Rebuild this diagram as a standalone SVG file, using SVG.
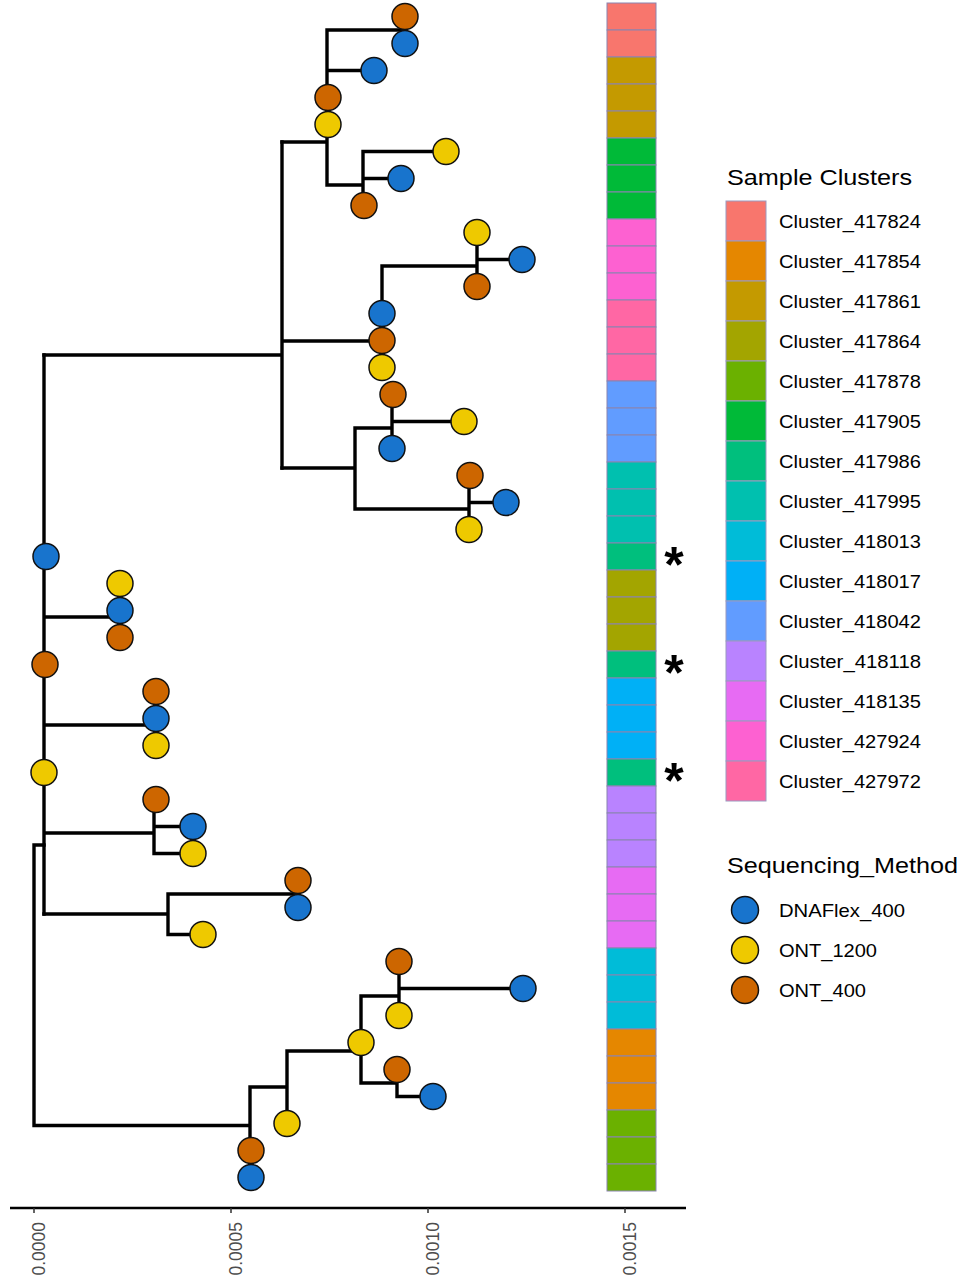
<svg xmlns="http://www.w3.org/2000/svg" width="961" height="1280" viewBox="0 0 961 1280">
<style>
.edge{fill:none;stroke:#000;stroke-width:3.4;stroke-linecap:square}
.tip{stroke:#111;stroke-width:1.5}
.b{fill:#1874CD}.y{fill:#EEC900}.o{fill:#CD6600}
.tile{stroke:#8a84b0;stroke-width:1}
.key{stroke:#9a9ac0;stroke-width:1}
.t{font-family:"Liberation Sans",Arial,sans-serif;fill:#000}
.lab{font-size:19px}
.ttl{font-size:22px}
.ax{font-family:"Liberation Sans",Arial,sans-serif;font-size:17.5px;fill:#4D4D4D}
.ast{font-family:"Liberation Sans",Arial,sans-serif;font-size:50px;font-weight:bold;fill:#000}
</style>
<rect x="0" y="0" width="961" height="1280" fill="#fff"/>
<g id="connectors">
<path class="edge" d="M405,16.5V43.5 M327,30H405 M327,30V185 M327,70.5H374 M282,142H327 M327,185H363 M363,151.5V205.5 M363,151.5H446 M363,178.5H401"/>
<path class="edge" d="M282,142V468 M44,355H282 M282,341H382 M382,266V367.5 M382,266H477 M477,232.5V286.5 M477,259.5H522"/>
<path class="edge" d="M282,468H355 M355,428V509 M355,428H392 M392,394.5V448.5 M392,421.5H464 M355,509H469 M469,475.5V529.5 M469,502.5H506"/>
<path class="edge" d="M44,355V914 M44,617H120 M120,583.5V637.5 M44,725H156 M156,691.5V745.5 M44,833H154 M154,799.5V853.5 M154,826.5H193 M154,853.5H193"/>
<path class="edge" d="M44,914H168 M168,894V934.5 M168,894H298 M298,880.5V907.5 M168,934.5H203"/>
<path class="edge" d="M34,845H44 M34,845V1125.5 M34,1125.5H250 M250,1087V1177.5 M250,1087H287 M287,1051V1123.5 M287,1051H361 M361,996V1083 M361,996H399 M399,961.5V1015.5 M399,988.5H523 M361,1083H397 M397,1069.5V1096.5 M397,1096.5H433"/>
</g>
<g id="tips">
<g id="tip-0"><circle class="tip o" cx="405" cy="16.5" r="13"/></g>
<g id="tip-1"><circle class="tip b" cx="405" cy="43.5" r="13"/></g>
<g id="tip-2"><circle class="tip b" cx="374" cy="70.5" r="13"/></g>
<g id="tip-3"><circle class="tip o" cx="328" cy="97.5" r="13"/></g>
<g id="tip-4"><circle class="tip y" cx="328" cy="124.5" r="13"/></g>
<g id="tip-5"><circle class="tip y" cx="446" cy="151.5" r="13"/></g>
<g id="tip-6"><circle class="tip b" cx="401" cy="178.5" r="13"/></g>
<g id="tip-7"><circle class="tip o" cx="364" cy="205.5" r="13"/></g>
<g id="tip-8"><circle class="tip y" cx="477" cy="232.5" r="13"/></g>
<g id="tip-9"><circle class="tip b" cx="522" cy="259.5" r="13"/></g>
<g id="tip-10"><circle class="tip o" cx="477" cy="286.5" r="13"/></g>
<g id="tip-11"><circle class="tip b" cx="382" cy="313.5" r="13"/></g>
<g id="tip-12"><circle class="tip o" cx="382" cy="340.5" r="13"/></g>
<g id="tip-13"><circle class="tip y" cx="382" cy="367.5" r="13"/></g>
<g id="tip-14"><circle class="tip o" cx="393" cy="394.5" r="13"/></g>
<g id="tip-15"><circle class="tip y" cx="464" cy="421.5" r="13"/></g>
<g id="tip-16"><circle class="tip b" cx="392" cy="448.5" r="13"/></g>
<g id="tip-17"><circle class="tip o" cx="470" cy="475.5" r="13"/></g>
<g id="tip-18"><circle class="tip b" cx="506" cy="502.5" r="13"/></g>
<g id="tip-19"><circle class="tip y" cx="469" cy="529.5" r="13"/></g>
<g id="tip-20"><circle class="tip b" cx="46" cy="556.5" r="13"/></g>
<g id="tip-21"><circle class="tip y" cx="120" cy="583.5" r="13"/></g>
<g id="tip-22"><circle class="tip b" cx="120" cy="610.5" r="13"/></g>
<g id="tip-23"><circle class="tip o" cx="120" cy="637.5" r="13"/></g>
<g id="tip-24"><circle class="tip o" cx="45" cy="664.5" r="13"/></g>
<g id="tip-25"><circle class="tip o" cx="156" cy="691.5" r="13"/></g>
<g id="tip-26"><circle class="tip b" cx="156" cy="718.5" r="13"/></g>
<g id="tip-27"><circle class="tip y" cx="156" cy="745.5" r="13"/></g>
<g id="tip-28"><circle class="tip y" cx="44" cy="772.5" r="13"/></g>
<g id="tip-29"><circle class="tip o" cx="156" cy="799.5" r="13"/></g>
<g id="tip-30"><circle class="tip b" cx="193" cy="826.5" r="13"/></g>
<g id="tip-31"><circle class="tip y" cx="193" cy="853.5" r="13"/></g>
<g id="tip-32"><circle class="tip o" cx="298" cy="880.5" r="13"/></g>
<g id="tip-33"><circle class="tip b" cx="298" cy="907.5" r="13"/></g>
<g id="tip-34"><circle class="tip y" cx="203" cy="934.5" r="13"/></g>
<g id="tip-35"><circle class="tip o" cx="399" cy="961.5" r="13"/></g>
<g id="tip-36"><circle class="tip b" cx="523" cy="988.5" r="13"/></g>
<g id="tip-37"><circle class="tip y" cx="399" cy="1015.5" r="13"/></g>
<g id="tip-38"><circle class="tip y" cx="361" cy="1042.5" r="13"/></g>
<g id="tip-39"><circle class="tip o" cx="397" cy="1069.5" r="13"/></g>
<g id="tip-40"><circle class="tip b" cx="433" cy="1096.5" r="13"/></g>
<g id="tip-41"><circle class="tip y" cx="287" cy="1123.5" r="13"/></g>
<g id="tip-42"><circle class="tip o" cx="251" cy="1150.5" r="13"/></g>
<g id="tip-43"><circle class="tip b" cx="251" cy="1177.5" r="13"/></g>
</g>
<g id="cluster-bar">
<rect class="tile" x="607" y="3" width="49" height="27" fill="#F8766D"/>
<rect class="tile" x="607" y="30" width="49" height="27" fill="#F8766D"/>
<rect class="tile" x="607" y="57" width="49" height="27" fill="#C49A00"/>
<rect class="tile" x="607" y="84" width="49" height="27" fill="#C49A00"/>
<rect class="tile" x="607" y="111" width="49" height="27" fill="#C49A00"/>
<rect class="tile" x="607" y="138" width="49" height="27" fill="#00BA38"/>
<rect class="tile" x="607" y="165" width="49" height="27" fill="#00BA38"/>
<rect class="tile" x="607" y="192" width="49" height="27" fill="#00BA38"/>
<rect class="tile" x="607" y="219" width="49" height="27" fill="#FD61D1"/>
<rect class="tile" x="607" y="246" width="49" height="27" fill="#FD61D1"/>
<rect class="tile" x="607" y="273" width="49" height="27" fill="#FD61D1"/>
<rect class="tile" x="607" y="300" width="49" height="27" fill="#FF67A4"/>
<rect class="tile" x="607" y="327" width="49" height="27" fill="#FF67A4"/>
<rect class="tile" x="607" y="354" width="49" height="27" fill="#FF67A4"/>
<rect class="tile" x="607" y="381" width="49" height="27" fill="#619CFF"/>
<rect class="tile" x="607" y="408" width="49" height="27" fill="#619CFF"/>
<rect class="tile" x="607" y="435" width="49" height="27" fill="#619CFF"/>
<rect class="tile" x="607" y="462" width="49" height="27" fill="#00C0AF"/>
<rect class="tile" x="607" y="489" width="49" height="27" fill="#00C0AF"/>
<rect class="tile" x="607" y="516" width="49" height="27" fill="#00C0AF"/>
<rect class="tile" x="607" y="543" width="49" height="27" fill="#00BF7D"/>
<rect class="tile" x="607" y="570" width="49" height="27" fill="#A3A500"/>
<rect class="tile" x="607" y="597" width="49" height="27" fill="#A3A500"/>
<rect class="tile" x="607" y="624" width="49" height="27" fill="#A3A500"/>
<rect class="tile" x="607" y="651" width="49" height="27" fill="#00BF7D"/>
<rect class="tile" x="607" y="678" width="49" height="27" fill="#00B0F6"/>
<rect class="tile" x="607" y="705" width="49" height="27" fill="#00B0F6"/>
<rect class="tile" x="607" y="732" width="49" height="27" fill="#00B0F6"/>
<rect class="tile" x="607" y="759" width="49" height="27" fill="#00BF7D"/>
<rect class="tile" x="607" y="786" width="49" height="27" fill="#B983FF"/>
<rect class="tile" x="607" y="813" width="49" height="27" fill="#B983FF"/>
<rect class="tile" x="607" y="840" width="49" height="27" fill="#B983FF"/>
<rect class="tile" x="607" y="867" width="49" height="27" fill="#E76BF3"/>
<rect class="tile" x="607" y="894" width="49" height="27" fill="#E76BF3"/>
<rect class="tile" x="607" y="921" width="49" height="27" fill="#E76BF3"/>
<rect class="tile" x="607" y="948" width="49" height="27" fill="#00BCD8"/>
<rect class="tile" x="607" y="975" width="49" height="27" fill="#00BCD8"/>
<rect class="tile" x="607" y="1002" width="49" height="27" fill="#00BCD8"/>
<rect class="tile" x="607" y="1029" width="49" height="27" fill="#E58700"/>
<rect class="tile" x="607" y="1056" width="49" height="27" fill="#E58700"/>
<rect class="tile" x="607" y="1083" width="49" height="27" fill="#E58700"/>
<rect class="tile" x="607" y="1110" width="49" height="27" fill="#6BB100"/>
<rect class="tile" x="607" y="1137" width="49" height="27" fill="#6BB100"/>
<rect class="tile" x="607" y="1164" width="49" height="27" fill="#6BB100"/>
</g>
<g id="asterisks">
<text class="ast" x="674" y="582" text-anchor="middle">*</text>
<text class="ast" x="674" y="690" text-anchor="middle">*</text>
<text class="ast" x="674" y="798" text-anchor="middle">*</text>
</g>
<g id="axis">
<path d="M10,1208H686" stroke="#000" stroke-width="2.4" fill="none"/>
<path d="M34,1208V1213 M231,1208V1213 M428,1208V1213 M625,1208V1213" stroke="#333" stroke-width="1.5" fill="none"/>
<text class="ax" transform="translate(45,1222) rotate(-90)" text-anchor="end">0.0000</text>
<text class="ax" transform="translate(242,1222) rotate(-90)" text-anchor="end">0.0005</text>
<text class="ax" transform="translate(439,1222) rotate(-90)" text-anchor="end">0.0010</text>
<text class="ax" transform="translate(636,1222) rotate(-90)" text-anchor="end">0.0015</text>
</g>
<g id="legend-clusters">
<text class="t ttl" x="727" y="185" textLength="185" lengthAdjust="spacingAndGlyphs">Sample Clusters</text>
<rect class="key" x="726" y="201" width="40" height="40" fill="#F8766D"/>
<rect class="key" x="726" y="241" width="40" height="40" fill="#E58700"/>
<rect class="key" x="726" y="281" width="40" height="40" fill="#C49A00"/>
<rect class="key" x="726" y="321" width="40" height="40" fill="#A3A500"/>
<rect class="key" x="726" y="361" width="40" height="40" fill="#6BB100"/>
<rect class="key" x="726" y="401" width="40" height="40" fill="#00BA38"/>
<rect class="key" x="726" y="441" width="40" height="40" fill="#00BF7D"/>
<rect class="key" x="726" y="481" width="40" height="40" fill="#00C0AF"/>
<rect class="key" x="726" y="521" width="40" height="40" fill="#00BCD8"/>
<rect class="key" x="726" y="561" width="40" height="40" fill="#00B0F6"/>
<rect class="key" x="726" y="601" width="40" height="40" fill="#619CFF"/>
<rect class="key" x="726" y="641" width="40" height="40" fill="#B983FF"/>
<rect class="key" x="726" y="681" width="40" height="40" fill="#E76BF3"/>
<rect class="key" x="726" y="721" width="40" height="40" fill="#FD61D1"/>
<rect class="key" x="726" y="761" width="40" height="40" fill="#FF67A4"/>
<text class="t lab" x="779" y="228" textLength="142" lengthAdjust="spacingAndGlyphs">Cluster_417824</text>
<text class="t lab" x="779" y="268" textLength="142" lengthAdjust="spacingAndGlyphs">Cluster_417854</text>
<text class="t lab" x="779" y="308" textLength="142" lengthAdjust="spacingAndGlyphs">Cluster_417861</text>
<text class="t lab" x="779" y="348" textLength="142" lengthAdjust="spacingAndGlyphs">Cluster_417864</text>
<text class="t lab" x="779" y="388" textLength="142" lengthAdjust="spacingAndGlyphs">Cluster_417878</text>
<text class="t lab" x="779" y="428" textLength="142" lengthAdjust="spacingAndGlyphs">Cluster_417905</text>
<text class="t lab" x="779" y="468" textLength="142" lengthAdjust="spacingAndGlyphs">Cluster_417986</text>
<text class="t lab" x="779" y="508" textLength="142" lengthAdjust="spacingAndGlyphs">Cluster_417995</text>
<text class="t lab" x="779" y="548" textLength="142" lengthAdjust="spacingAndGlyphs">Cluster_418013</text>
<text class="t lab" x="779" y="588" textLength="142" lengthAdjust="spacingAndGlyphs">Cluster_418017</text>
<text class="t lab" x="779" y="628" textLength="142" lengthAdjust="spacingAndGlyphs">Cluster_418042</text>
<text class="t lab" x="779" y="668" textLength="142" lengthAdjust="spacingAndGlyphs">Cluster_418118</text>
<text class="t lab" x="779" y="708" textLength="142" lengthAdjust="spacingAndGlyphs">Cluster_418135</text>
<text class="t lab" x="779" y="748" textLength="142" lengthAdjust="spacingAndGlyphs">Cluster_427924</text>
<text class="t lab" x="779" y="788" textLength="142" lengthAdjust="spacingAndGlyphs">Cluster_427972</text>
</g>
<g id="legend-method">
<text class="t ttl" x="727" y="873" textLength="231" lengthAdjust="spacingAndGlyphs">Sequencing_Method</text>
<circle class="tip b" cx="745" cy="910" r="13.5"/>
<circle class="tip y" cx="745" cy="950" r="13.5"/>
<circle class="tip o" cx="745" cy="990" r="13.5"/>
<text class="t lab" x="779" y="917" textLength="126" lengthAdjust="spacingAndGlyphs">DNAFlex_400</text>
<text class="t lab" x="779" y="957" textLength="98" lengthAdjust="spacingAndGlyphs">ONT_1200</text>
<text class="t lab" x="779" y="997" textLength="87" lengthAdjust="spacingAndGlyphs">ONT_400</text>
</g>
</svg>
